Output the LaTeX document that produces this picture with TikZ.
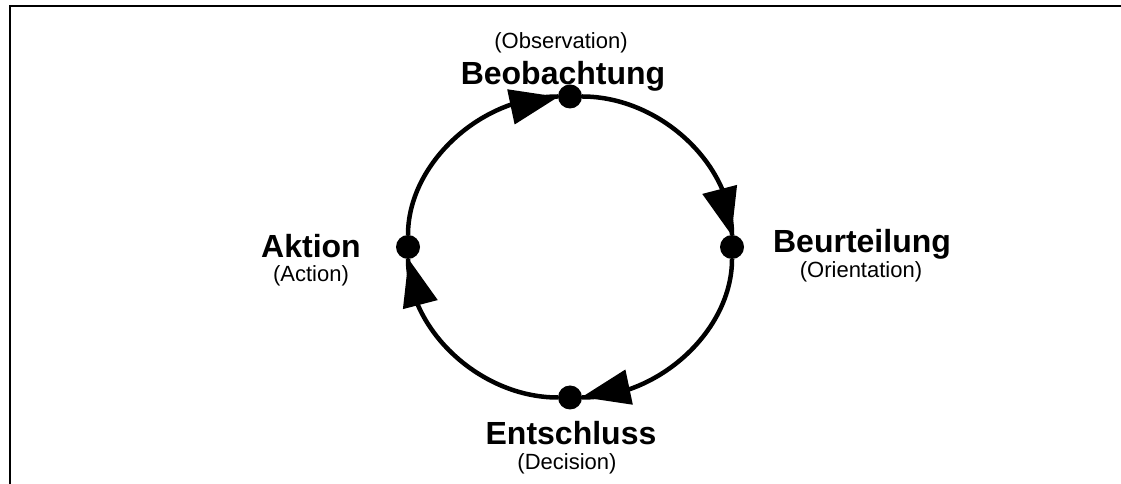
\documentclass[tikz,border=0pt]{standalone}
\usepackage{fontspec}
\setmainfont{Liberation Sans}
\usetikzlibrary{calc}
\begin{document}
\begin{tikzpicture}[x=1pt,y=1pt,
  dot/.style={circle,fill=black,inner sep=0pt,minimum size=24pt},
  conn/.style={line width=4.5pt},
  head/.style={fill=black},
  big/.style={anchor=base,inner sep=0pt,font=\fontsize{32}{38}\selectfont\bfseries},
  small/.style={anchor=base,inner sep=0pt,font=\fontsize{22}{26}\selectfont}]
\useasboundingbox (0,0) rectangle (1121,484);
\draw[line width=2pt] (1121,478) -- (10,478) -- (10,0);
\coordinate (C) at (570,237);
\node[dot] (obs) at (570,387.5) {};
\node[dot] (ori) at (732,237) {};
\node[dot] (dec) at (570,86.5) {};
\node[dot] (act) at (408,237) {};
\draw[conn] (act) .. controls +(0,83.1) and +(-89.5,0) .. (obs);
\draw[conn] (obs) .. controls +(89.5,0) and +(0,83.1) .. (ori);
\draw[conn] (ori) .. controls +(0,-83.1) and +(89.5,0) .. (dec);
\draw[conn] (dec) .. controls +(-89.5,0) and +(0,-83.1) .. (act);
% arrowheads
\foreach \t/\b in {94.2/111.4, 4.6/22.5, 274.2/291.4, 184.6/202.5}{
  \coordinate (T) at ($(C)+(\t:162 and 150.5)$);
  \coordinate (B) at ($(C)+(\b:162 and 150.5)$);
  \fill[head] (T) -- ($(B)!18pt!90:(T)$) -- ($(B)!18pt!-90:(T)$) -- cycle;
}
\node[small] (obsen) at (561,435) {(Observation)};
\node[big] (obsde) at (563,399) {Beobachtung};
\node[big] (oride) at (862,231) {Beurteilung};
\node[small] (orien) at (861,206) {(Orientation)};
\node[big] (actde) at (311,226.5) {Aktion};
\node[small] (acten) at (311,202) {(Action)};
\node[big] (decde) at (571,39.5) {Entschluss};
\node[small] (decen) at (567,14) {(Decision)};
\end{tikzpicture}
\end{document}
